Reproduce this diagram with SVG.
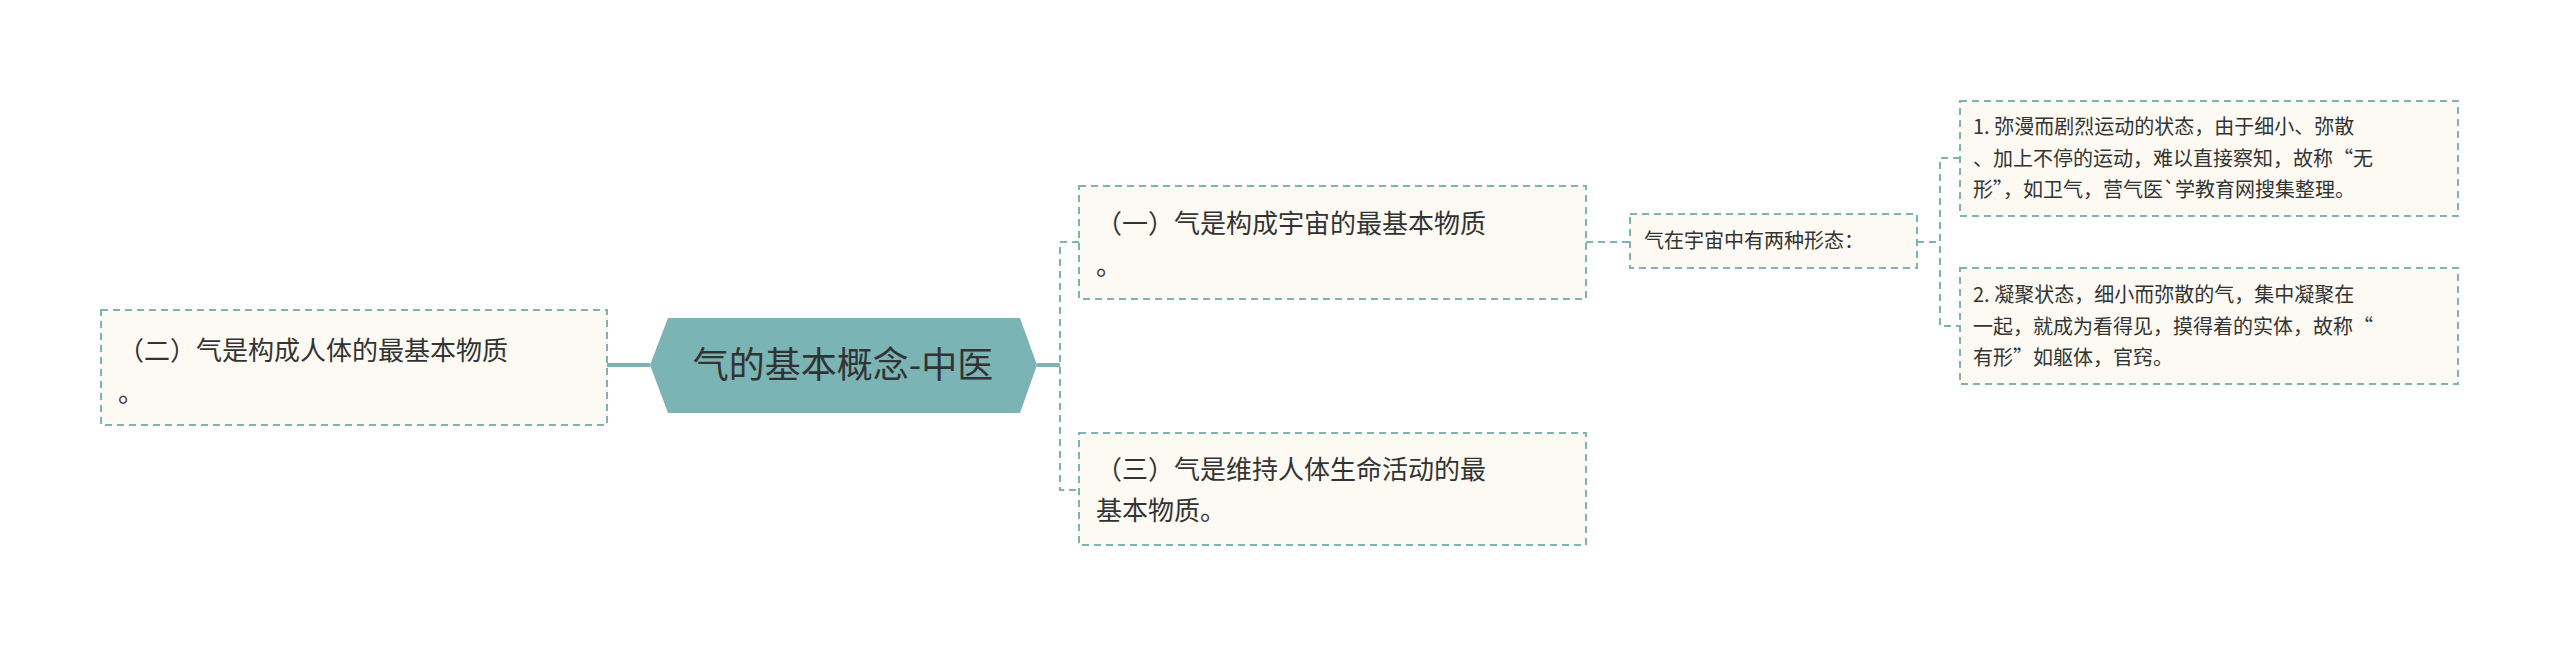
<svg xmlns="http://www.w3.org/2000/svg" width="2560" height="648" viewBox="0 0 2560 648">
<style>
.box{fill:#fcfaf2;stroke:#7db3b3;stroke-width:2;stroke-dasharray:7 5}
.t{font-family:"Noto Sans CJK SC","Noto Sans",sans-serif;fill:#333}
.l1{font-size:26px}
.l2{font-size:20px}
.c{fill:none;stroke:#7db3b3;stroke-width:2;stroke-dasharray:7 5}
.s{fill:none;stroke:#7db3b3;stroke-width:4}
</style>
<rect width="2560" height="648" fill="#fff"/>
<g id="connectors">
<path class="s" d="M607 365H650"/>
<path class="s" d="M1037 365H1060"/>
<path class="c" d="M1079 242H1060V490H1079"/>
<path class="c" d="M1586 242H1630"/>
<path class="c" d="M1917 242H1940"/>
<path class="c" d="M1960 158H1940V326H1960"/>
</g>
<g id="center">
<polygon points="668,318 1020,318 1037,365 1020,413 668,413 650,365" fill="#7ab4b4"/>
<text class="t" x="843" y="378" font-size="36" text-anchor="middle">气的基本概念-中医</text>
</g>
<g id="n2">
<rect class="box" x="101" y="310" width="506" height="115"/>
<text class="t l1" x="118" y="360">（二）气是构成人体的最基本物质</text>
<text class="t l1" x="118" y="402">。</text>
</g>
<g id="n1">
<rect class="box" x="1079" y="186" width="507" height="113"/>
<text class="t l1" x="1096" y="233">（一）气是构成宇宙的最基本物质</text>
<text class="t l1" x="1096" y="275">。</text>
</g>
<g id="n3">
<rect class="box" x="1079" y="433" width="507" height="112"/>
<text class="t l1" x="1096" y="479">（三）气是维持人体生命活动的最</text>
<text class="t l1" x="1096" y="520">基本物质。</text>
</g>
<g id="mid">
<rect class="box" x="1630" y="214" width="287" height="54"/>
<text class="t l2" x="1644" y="248">气在宇宙中有两种形态：</text>
</g>
<g id="leaf1">
<rect class="box" x="1960" y="101" width="498" height="115"/>
<text class="t l2" x="1973" y="134">1. 弥漫而剧烈运动的状态，由于细小、弥散</text>
<text class="t l2" x="1973" y="166">、加上不停的运动，难以直接察知，故称“无</text>
<text class="t l2" x="1973" y="197">形”，如卫气，营气医`学教育网搜集整理。</text>
</g>
<g id="leaf2">
<rect class="box" x="1960" y="268" width="498" height="116"/>
<text class="t l2" x="1973" y="302">2. 凝聚状态，细小而弥散的气，集中凝聚在</text>
<text class="t l2" x="1973" y="334">一起，就成为看得见，摸得着的实体，故称“</text>
<text class="t l2" x="1973" y="365">有形”如躯体，官窍。</text>
</g>
</svg>
